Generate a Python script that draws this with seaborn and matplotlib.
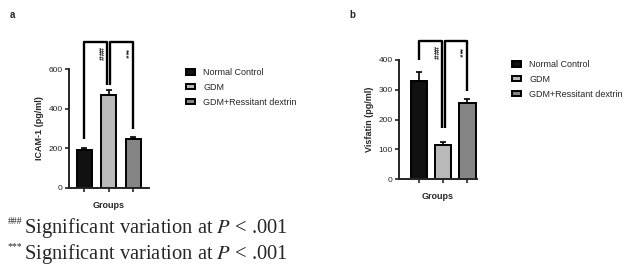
import numpy as np
import matplotlib
matplotlib.use("Agg")
import matplotlib.pyplot as plt
from matplotlib.patches import Patch
import seaborn as sns

groups = ['Normal Control', 'GDM', 'GDM+Ressitant dextrin']
colors = ['#111111', '#b9b9b9', '#858585']

# panel a: ICAM-1
icam_mean = [192, 470, 245]
icam_err = [10, 22, 13]
# panel b: Visfatin
visf_mean = [331, 113, 257]
visf_err = [28, 12, 13]

sns.set_style('ticks')
plt.rcParams['font.family'] = ['Liberation Sans', 'DejaVu Sans']
plt.rcParams['mathtext.fontset'] = 'stix'

W, H = 636, 267
fig = plt.figure(figsize=(W / 100, H / 100), dpi=100)


def px_rect(left, top, right, bottom):
    return [left / W, 1 - bottom / H, (right - left) / W, (bottom - top) / H]


def panel(rect, means, errs, ymax, yticks, xlim, ylabel, brackets, marks, width):
    ax = fig.add_axes(rect)
    sns.barplot(x=groups, y=means, hue=groups, palette=colors, ax=ax, legend=False,
                edgecolor='black', linewidth=1.4, width=width)
    ax.errorbar(range(3), means, yerr=[np.zeros(3), errs], fmt='none',
                ecolor='black', elinewidth=1.2, capsize=2.5, capthick=1.2)
    ax.set_ylim(0, ymax)
    ax.set_yticks(yticks)
    ax.set_xlim(*xlim)
    ax.set_xticks(range(3))
    ax.set_xticklabels([])
    sns.despine(ax=ax)
    ax.spines['left'].set_bounds(0, ymax)
    ax.spines['bottom'].set_bounds(xlim[0], xlim[1])
    for s in ['left', 'bottom']:
        ax.spines[s].set_linewidth(1.4)
    ax.tick_params(axis='both', width=1.2, length=3, labelsize=6, pad=1.5)
    ax.set_ylabel(ylabel, fontsize=6.5, fontweight='bold', labelpad=3)
    ax.set_xlabel('Groups', fontsize=6.5, fontweight='bold', labelpad=5)
    for (x0, x1, y0, y1, top), m in zip(brackets, marks):
        ax.plot([x0, x0, x1, x1], [y0, top, top, y1], color='black', lw=1.7,
                clip_on=False, solid_capstyle='butt')
        ax.text((x0 + x1) / 2 + 0.15, top - 0.1 * ymax, m, rotation=-90,
                fontsize=6, fontweight='bold', ha='center', va='center')
    return ax


ax_a = panel(px_rect(69, 69, 149, 188), icam_mean, icam_err, 600, [0, 200, 400, 600],
             (-0.62, 2.65), 'ICAM-1 (pg/ml)',
             [(0, 0.94, 245, 520, 736), (1.06, 2, 520, 300, 736)], ['###', '***'], 0.62)
ax_b = panel(px_rect(399, 60, 477, 179), visf_mean, visf_err, 400, [0, 100, 200, 300, 400],
             (-0.83, 2.4), 'Visfatin (pg/ml)',
             [(0, 0.94, 400, 171, 465), (1.06, 2, 171, 297, 465)], ['###', '***'], 0.68)

handles = [Patch(facecolor=c, edgecolor='black', linewidth=1.4) for c in colors]
for anchor in [(186 / W, 1 - 68 / H), (512 / W, 1 - 60 / H)]:
    fig.legend(handles, groups, loc='upper left', bbox_to_anchor=anchor, frameon=False,
               fontsize=6.5, handlelength=1.0, handleheight=0.55, handletextpad=0.9,
               labelspacing=0.65, borderaxespad=0, borderpad=0)

fig.text(10 / W, 1 - 15 / H, 'a', fontsize=7, fontweight='bold', ha='left', va='center')
fig.text(349 / W, 1 - 15 / H, 'b', fontsize=7, fontweight='bold', ha='left', va='center')

for yc, sym in [(228, '###'), (254, '***')]:
    fig.text(8 / W, 1 - (yc - 7) / H, sym, fontsize=7, family='Liberation Serif',
             ha='left', va='center')
    fig.text(24 / W, 1 - yc / H, r'Significant variation at $\mathit{P}$ < .001',
             fontsize=14.8, family='Liberation Serif', ha='left', va='center')

fig.savefig('out.png', dpi=100)
